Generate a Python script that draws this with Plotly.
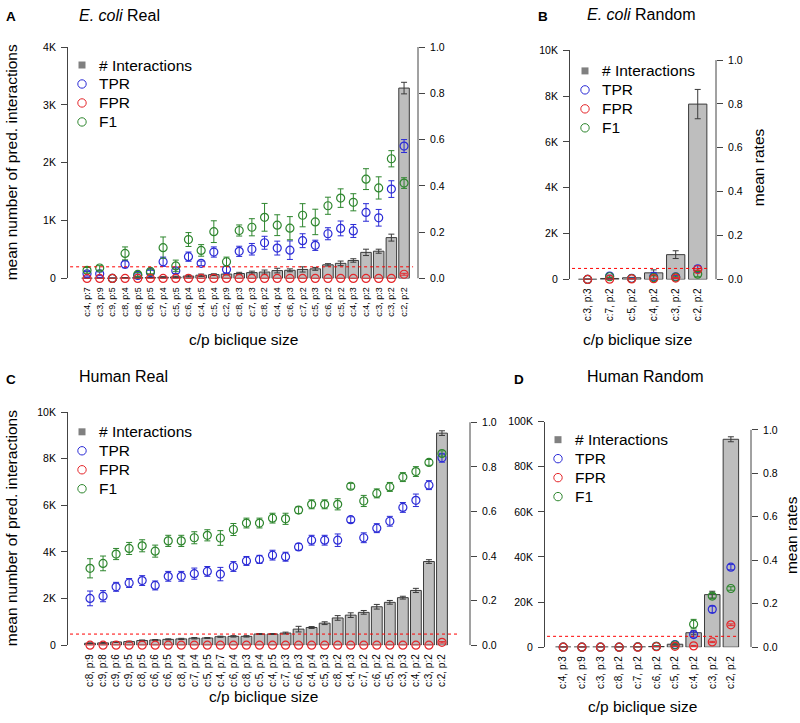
import plotly.graph_objects as go

# ---------------- data ----------------
# Panel A: E. coli Real
a_labels = ["c:4, p:7", "c:3, p:9", "c:9, p:5", "c:8, p:4", "c:8, p:5", "c:6, p:5", "c:7, p:4",
            "c:5, p:5", "c:6, p:4", "c:4, p:5", "c:5, p:4", "c:2, p:9", "c:8, p:3", "c:7, p:3",
            "c:8, p:2", "c:4, p:4", "c:6, p:3", "c:7, p:2", "c:5, p:3", "c:6, p:2", "c:5, p:2",
            "c:4, p:3", "c:4, p:2", "c:3, p:3", "c:3, p:2", "c:2, p:2"]
a_bars = [4, 6, 3, 8, 12, 15, 20, 25, 40, 55, 65, 75, 85, 100, 110, 135, 140, 155, 165, 235,
          260, 310, 450, 470, 705, 3290]
a_bars_err = [3, 4, 2, 5, 6, 8, 10, 12, 15, 20, 15, 15, 20, 25, 35, 40, 25, 45, 25, 20, 40, 30,
              55, 35, 60, 100]
a_tpr = [0.02, 0.02, 0.0, 0.061, 0.013, 0.025, 0.072, 0.033, 0.094, 0.065, 0.114, 0.038, 0.117,
         0.126, 0.154, 0.131, 0.122, 0.163, 0.143, 0.193, 0.216, 0.205, 0.285, 0.262, 0.386, 0.572]
a_tpr_err = [0.01, 0.008, 0.0, 0.015, 0.006, 0.01, 0.02, 0.012, 0.02, 0.01, 0.022, 0.015, 0.022,
             0.025, 0.028, 0.03, 0.04, 0.03, 0.022, 0.026, 0.032, 0.028, 0.038, 0.036, 0.036, 0.028]
a_fpr = [0.0, 0.0, 0.0, 0.0, 0.0, 0.0, 0.0, 0.0, 0.0, 0.0, 0.0, 0.0, 0.0, 0.0, 0.0, 0.0, 0.0,
         0.0, 0.0, 0.0, 0.0, 0.0, 0.0, 0.0, 0.0, 0.018]
a_fpr_err = [0.0, 0.0, 0.0, 0.0, 0.0, 0.0, 0.0, 0.0, 0.0, 0.0, 0.0, 0.0, 0.0, 0.0, 0.0, 0.0, 0.0,
             0.0, 0.0, 0.0, 0.0, 0.0, 0.0, 0.0, 0.0, 0.004]
a_f1 = [0.035, 0.045, 0.0, 0.108, 0.017, 0.03, 0.133, 0.054, 0.168, 0.121, 0.202, 0.072, 0.207,
        0.221, 0.264, 0.23, 0.217, 0.273, 0.244, 0.314, 0.347, 0.329, 0.429, 0.391, 0.517, 0.412]
a_f1_err = [0.012, 0.01, 0.0, 0.028, 0.008, 0.01, 0.046, 0.025, 0.03, 0.025, 0.047, 0.02, 0.024,
            0.037, 0.06, 0.045, 0.05, 0.05, 0.055, 0.037, 0.04, 0.037, 0.045, 0.048, 0.035, 0.023]

# Panel B: E. coli Random
b_labels = ["c:3, p:3", "c:7, p:2", "c:5, p:2", "c:4, p:2", "c:3, p:2", "c:2, p:2"]
b_bars = [5, 40, 70, 285, 1080, 7650]
b_bars_err = [3, 15, 20, 130, 170, 640]
b_tpr = [0.0, 0.015, 0.005, 0.012, 0.012, 0.048]
b_tpr_err = [0.0, 0.005, 0.003, 0.02, 0.005, 0.015]
b_fpr = [0.0, 0.001, 0.002, 0.003, 0.006, 0.045]
b_fpr_err = [0.0, 0.0, 0.001, 0.002, 0.002, 0.004]
b_f1 = [0.0, 0.012, 0.004, 0.008, 0.01, 0.024]
b_f1_err = [0.0, 0.004, 0.002, 0.01, 0.004, 0.012]

# Panel C: Human Real
c_labels = ["c:8, p:9", "c:9, p:8", "c:9, p:6", "c:9, p:5", "c:8, p:5", "c:6, p:6", "c:6, p:5",
            "c:8, p:4", "c:7, p:4", "c:5, p:5", "c:4, p:7", "c:6, p:4", "c:8, p:3", "c:5, p:4",
            "c:4, p:5", "c:7, p:3", "c:6, p:3", "c:4, p:4", "c:5, p:3", "c:8, p:2", "c:4, p:3",
            "c:7, p:2", "c:6, p:2", "c:5, p:2", "c:3, p:3", "c:4, p:2", "c:3, p:2", "c:2, p:2"]
c_bars = [85, 100, 140, 155, 200, 225, 250, 270, 300, 310, 365, 380, 380, 480, 480, 520, 690,
          760, 945, 1170, 1290, 1410, 1650, 1840, 2040, 2350, 3590, 9100]
c_bars_err = [15, 15, 20, 20, 25, 20, 25, 25, 30, 20, 25, 30, 30, 20, 20, 40, 120, 40, 60, 100,
              100, 80, 100, 80, 60, 90, 80, 100]
c_tpr = [0.21, 0.22, 0.262, 0.279, 0.29, 0.268, 0.309, 0.309, 0.321, 0.331, 0.319, 0.353, 0.378,
         0.385, 0.404, 0.397, 0.441, 0.471, 0.471, 0.471, 0.563, 0.482, 0.525, 0.556, 0.618,
         0.65, 0.718, 0.841]
c_tpr_err = [0.033, 0.025, 0.02, 0.02, 0.022, 0.02, 0.022, 0.022, 0.025, 0.022, 0.03, 0.022,
             0.02, 0.018, 0.022, 0.02, 0.015, 0.022, 0.022, 0.028, 0.013, 0.022, 0.02, 0.022,
             0.022, 0.028, 0.02, 0.02]
c_fpr = [0.0, 0.0, 0.0, 0.0, 0.0, 0.0, 0.0, 0.0, 0.0, 0.0, 0.0, 0.0, 0.0, 0.0, 0.0, 0.0, 0.0,
         0.0, 0.0, 0.0, 0.0, 0.0, 0.0, 0.0, 0.0, 0.0, 0.0, 0.013]
c_fpr_err = [0.0, 0.0, 0.0, 0.0, 0.0, 0.0, 0.0, 0.0, 0.0, 0.0, 0.0, 0.0, 0.0, 0.0, 0.0, 0.0,
             0.0, 0.0, 0.0, 0.0, 0.0, 0.0, 0.0, 0.0, 0.0, 0.0, 0.0, 0.003]
c_f1 = [0.345, 0.367, 0.409, 0.434, 0.446, 0.422, 0.468, 0.468, 0.482, 0.493, 0.481, 0.519,
        0.548, 0.548, 0.57, 0.567, 0.606, 0.632, 0.632, 0.632, 0.713, 0.647, 0.681, 0.71,
        0.754, 0.779, 0.82, 0.86]
c_f1_err = [0.043, 0.033, 0.025, 0.027, 0.027, 0.027, 0.025, 0.025, 0.027, 0.025, 0.033, 0.027,
            0.022, 0.022, 0.022, 0.025, 0.015, 0.02, 0.02, 0.025, 0.013, 0.025, 0.02, 0.02, 0.02,
            0.022, 0.013, 0.012]

# Panel D: Human Random
d_labels = ["c:4, p:3", "c:2, p:9", "c:3, p:3", "c:8, p:2", "c:7, p:2", "c:6, p:2", "c:5, p:2",
            "c:4, p:2", "c:3, p:2", "c:2, p:2"]
d_bars = [30, 30, 40, 60, 100, 300, 1300, 6400, 23300, 92200]
d_bars_err = [10, 10, 10, 20, 30, 80, 300, 900, 1500, 1100]
d_tpr = [0.0, 0.0, 0.0, 0.0, 0.001, 0.004, 0.012, 0.058, 0.174, 0.368]
d_tpr_err = [0.0, 0.0, 0.0, 0.0, 0.0, 0.002, 0.006, 0.012, 0.015, 0.012]
d_fpr = [0.0, 0.0, 0.0, 0.0, 0.0, 0.002, 0.004, 0.006, 0.024, 0.103]
d_fpr_err = [0.0, 0.0, 0.0, 0.0, 0.0, 0.0, 0.0, 0.002, 0.003, 0.004]
d_f1 = [0.0, 0.0, 0.0, 0.0, 0.001, 0.004, 0.01, 0.106, 0.235, 0.27]
d_f1_err = [0.0, 0.0, 0.0, 0.0, 0.0, 0.002, 0.005, 0.022, 0.012, 0.008]

left_ticks_a = ["0", "1K", "2K", "3K", "4K"]
left_ticks_b = ["0", "2K", "4K", "6K", "8K", "10K"]
left_ticks_c = ["0", "2K", "4K", "6K", "8K", "10K"]
left_ticks_d = ["0", "20K", "40K", "60K", "80K", "100K"]
rate_ticks = ["0.0", "0.2", "0.4", "0.6", "0.8", "1.0"]
legend_names = ["# Interactions", "TPR", "FPR", "F1"]
rate_thresh = 0.05

# ---------------- styling / layout ----------------
FONT = "Liberation Sans, Arial, Helvetica, sans-serif"
W, H = 800, 723
BLUE = "#2B2BD6"
RED = "#E5262A"
GREEN = "#2E862E"
BAR = "#BEBEBE"
EDGE = "#3A3A3A"
AX = "#444444"
LEG_COLORS = ["#808080", BLUE, RED, GREEN]


def fx(x):
    return x / W


def fy(y):
    return 1 - y / H


panels = [
    dict(labels=a_labels, bars=a_bars, bars_err=a_bars_err, tpr=a_tpr, tpr_err=a_tpr_err,
         fpr=a_fpr, fpr_err=a_fpr_err, f1=a_f1, f1_err=a_f1_err, lticks=left_ticks_a, lstep=1000,
         left=68, right=418, top=41.7, bottom=277, rtop=41.7, xr=[-1.5, 26.1], xfont=9,
         thr=[0.006, 0.986], legx=97, legy=60),
    dict(labels=b_labels, bars=b_bars, bars_err=b_bars_err, tpr=b_tpr, tpr_err=b_tpr_err,
         fpr=b_fpr, fpr_err=b_fpr_err, f1=b_f1, f1_err=b_f1_err, lticks=left_ticks_b, lstep=2000,
         left=570, right=716, top=45, bottom=278, rtop=55, xr=[-0.8, 5.83], xfont=10,
         thr=[0.014, 0.945], legx=600, legy=66),
    dict(labels=c_labels, bars=c_bars, bars_err=c_bars_err, tpr=c_tpr, tpr_err=c_tpr_err,
         fpr=c_fpr, fpr_err=c_fpr_err, f1=c_f1, f1_err=c_f1_err, lticks=left_ticks_c, lstep=2000,
         left=68, right=470, top=413, bottom=650, rtop=423.3, xr=[-1.69, 29.15], xfont=10,
         thr=[0.005, 0.968], legx=97, legy=433),
    dict(labels=d_labels, bars=d_bars, bars_err=d_bars_err, tpr=d_tpr, tpr_err=d_tpr_err,
         fpr=d_fpr, fpr_err=d_fpr_err, f1=d_f1, f1_err=d_f1_err, lticks=left_ticks_d, lstep=20000,
         left=545, right=751, top=422.7, bottom=652, rtop=431, xr=[-0.98, 10.08], xfont=10,
         thr=[0.01, 0.94], legx=573, legy=441),
]

fig = go.Figure()
layout = dict(width=W, height=H, margin=dict(l=0, r=0, t=0, b=0), paper_bgcolor="white",
              plot_bgcolor="rgba(0,0,0,0)", font=dict(family=FONT, color="black"),
              showlegend=False, shapes=[], annotations=[])


def ann(text, x, y, size, angle=0, xanchor="center", bold=False):
    return dict(text=("<b>%s</b>" % text) if bold else text, x=fx(x), y=fy(y), xref="paper",
                yref="paper", showarrow=False, textangle=angle, xanchor=xanchor,
                yanchor="middle", font=dict(size=size, family=FONT, color="black"))


for i, p in enumerate(panels):
    n = i + 1
    xa = "x" if n == 1 else f"x{n}"
    yl = 2 * n - 1
    yr = 2 * n
    yla = "y" if yl == 1 else f"y{yl}"
    yra = f"y{yr}"
    xs = list(range(len(p["labels"])))
    rmax = (p["bottom"] - p["top"]) / (p["bottom"] - p["rtop"])
    lmax = p["lstep"] * (len(p["lticks"]) - 1)

    fig.add_trace(go.Bar(x=xs, y=p["bars"], width=0.83, name="# Interactions",
                         marker=dict(color=BAR, line=dict(color=EDGE, width=1)),
                         error_y=dict(type="data", array=p["bars_err"], color=EDGE,
                                      thickness=1, width=3),
                         xaxis=xa, yaxis=yla))
    for name, vals, errs, col in [("TPR", p["tpr"], p["tpr_err"], BLUE),
                                  ("F1", p["f1"], p["f1_err"], GREEN),
                                  ("FPR", p["fpr"], p["fpr_err"], RED)]:
        fig.add_trace(go.Scatter(x=xs, y=vals, mode="markers", name=name,
                                 marker=dict(symbol="circle-open", size=8, color=col,
                                             line=dict(width=1.2, color=col)),
                                 error_y=dict(type="data", array=errs, color=col,
                                              thickness=1, width=3),
                                 cliponaxis=False, xaxis=xa, yaxis=yra))

    xkey = "xaxis" if n == 1 else f"xaxis{n}"
    ylkey = "yaxis" if yl == 1 else f"yaxis{yl}"
    yrkey = f"yaxis{yr}"
    layout[xkey] = dict(domain=[fx(p["left"]), fx(p["right"])], range=p["xr"], anchor=yla,
                        tickmode="array", tickvals=xs, ticktext=p["labels"], tickangle=-90,
                        ticks="", showline=False, showgrid=False, zeroline=False,
                        ticklabelstandoff=6, tickfont=dict(size=p["xfont"], color="black"))
    layout[ylkey] = dict(domain=[fy(p["bottom"]), fy(p["top"])], range=[0, lmax], anchor=xa,
                         tickmode="array",
                         tickvals=[k * p["lstep"] for k in range(len(p["lticks"]))],
                         ticktext=p["lticks"], ticks="outside", ticklen=6, tickcolor=AX,
                         showline=True, linecolor=AX, linewidth=1, showgrid=False,
                         zeroline=False, tickfont=dict(size=10.5, color="black"),
                         ticklabelstandoff=3)
    layout[yrkey] = dict(overlaying=yla, side="right", anchor=xa, range=[0, rmax],
                         tickmode="array", tickvals=[0, 0.2, 0.4, 0.6, 0.8, 1.0],
                         ticktext=rate_ticks, ticks="outside", ticklen=6, tickcolor=AX,
                         showline=False, showgrid=False, zeroline=False,
                         tickfont=dict(size=10.5, color="black"), ticklabelstandoff=3)
    layout["shapes"].append(dict(type="line", xref=f"{xa} domain", yref=yra, x0=1, x1=1,
                                 y0=0, y1=1, line=dict(color=AX, width=1)))
    layout["shapes"].append(dict(type="line", xref=f"{xa} domain", yref=yra,
                                 x0=p["thr"][0], x1=p["thr"][1], y0=rate_thresh, y1=rate_thresh,
                                 line=dict(color="red", width=1, dash="dot")))

    # legend (symbols as pixel-sized shapes, labels as text)
    for k, (lname, lcol) in enumerate(zip(legend_names, LEG_COLORS)):
        sy = p["legy"] + k * 19.3
        sx = p["legx"] - 15
        if k == 0:
            layout["shapes"].append(dict(type="rect", xref="paper", yref="paper",
                                         xsizemode="pixel", ysizemode="pixel",
                                         xanchor=fx(sx), yanchor=fy(sy),
                                         x0=-3.5, x1=3.5, y0=-3.5, y1=3.5,
                                         fillcolor=lcol, line=dict(width=0)))
        else:
            layout["shapes"].append(dict(type="circle", xref="paper", yref="paper",
                                         xsizemode="pixel", ysizemode="pixel",
                                         xanchor=fx(sx), yanchor=fy(sy),
                                         x0=-4.2, x1=4.2, y0=-4.2, y1=4.2,
                                         fillcolor="rgba(0,0,0,0)",
                                         line=dict(color=lcol, width=1)))
        layout["annotations"].append(ann(lname, p["legx"], sy, 15.5, xanchor="left"))


layout["annotations"] += [
    ann("A", 11, 11, 13.5, bold=True),
    ann("B", 543, 11, 13.5, bold=True),
    ann("C", 11, 380, 13.5, bold=True),
    ann("D", 519, 380, 13.5, bold=True),
    ann("<i>E. coli</i> Real", 77, 10, 16, xanchor="left"),
    ann("<i>E. coli</i> Random", 585, 9, 16, xanchor="left"),
    ann("Human Real", 77, 377, 16, xanchor="left"),
    ann("Human Random", 585, 377, 16, xanchor="left"),
    ann("mean number of pred. interactions", 11, 159, 15.5, angle=-90),
    ann("mean number of pred. interactions", 11, 531, 15.5, angle=-90),
    ann("mean rates", 758, 164, 15.5, angle=-90),
    ann("mean rates", 791, 538, 15.5, angle=-90),
    ann("c/p biclique size", 243, 339, 15.5),
    ann("c/p biclique size", 637, 339, 15.5),
    ann("c/p biclique size", 263, 702, 15.5),
    ann("c/p biclique size", 642, 712, 15.5),
]

fig.update_layout(**layout)
fig.write_html("out.html", config={"displayModeBar": False},
               post_script="document.body.style.margin='0';document.body.style.overflow='hidden';")
